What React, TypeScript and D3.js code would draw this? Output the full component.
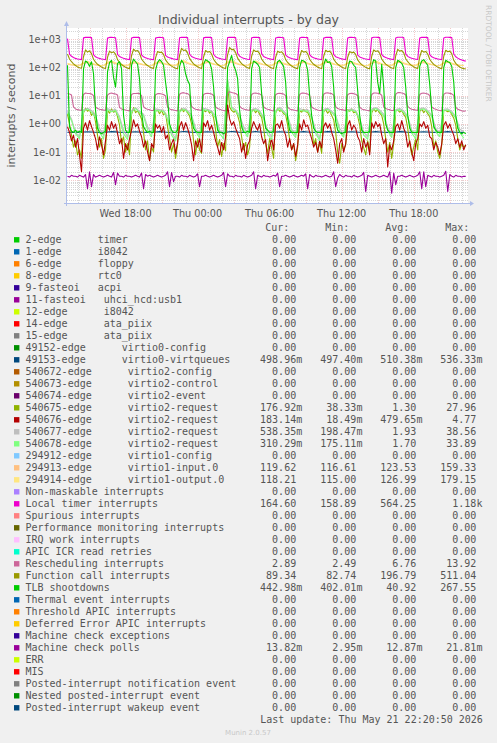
import React from "react";
import * as d3 from "d3";

// ---------- legend table ----------
const Z = "0.00";
const legendLabels = [
  "2-edge      timer",
  "1-edge      i8042",
  "6-edge      floppy",
  "8-edge      rtc0",
  "9-fasteoi   acpi",
  "11-fasteoi   uhci_hcd:usb1",
  "12-edge      i8042",
  "14-edge      ata_piix",
  "15-edge      ata_piix",
  "49152-edge      virtio0-config",
  "49153-edge      virtio0-virtqueues",
  "540672-edge      virtio2-config",
  "540673-edge      virtio2-control",
  "540674-edge      virtio2-event",
  "540675-edge      virtio2-request",
  "540676-edge      virtio2-request",
  "540677-edge      virtio2-request",
  "540678-edge      virtio2-request",
  "294912-edge      virtio1-config",
  "294913-edge      virtio1-input.0",
  "294914-edge      virtio1-output.0",
  "Non-maskable interrupts",
  "Local timer interrupts",
  "Spurious interrupts",
  "Performance monitoring interrupts",
  "IRQ work interrupts",
  "APIC ICR read retries",
  "Rescheduling interrupts",
  "Function call interrupts",
  "TLB shootdowns",
  "Thermal event interrupts",
  "Threshold APIC interrupts",
  "Deferred Error APIC interrupts",
  "Machine check exceptions",
  "Machine check polls",
  "ERR",
  "MIS",
  "Posted-interrupt notification event",
  "Nested posted-interrupt event",
  "Posted-interrupt wakeup event",
];
const legendColors = [
  "#00CC00", "#0066B3", "#FF8000", "#FFCC00", "#330099", "#990099", "#CCFF00", "#FF0000",
  "#808080", "#008F00", "#00487D", "#B35A00", "#B38F00", "#6B006B", "#8FB300", "#B30000",
  "#BEBEBE", "#80FF80", "#80C9FF", "#FFC080", "#FFE680", "#AA80FF", "#EE00CC", "#FF8080",
  "#666600", "#FFBFFF", "#00FFCC", "#CC6699", "#999900", "#00CC00", "#0066B3", "#FF8000",
  "#FFCC00", "#330099", "#990099", "#CCFF00", "#FF0000", "#808080", "#008F00", "#00487D",
];
const curVals = [Z, Z, Z, Z, Z, Z, Z, Z, Z, Z, "498.96m", Z, Z, Z, "176.92m", "183.14m", "538.35m", "310.29m", Z, "119.62", "118.21", Z, "164.60", Z, Z, Z, Z, "2.89", "89.34", "442.98m", Z, Z, Z, Z, "13.82m", Z, Z, Z, Z, Z];
const minVals = [Z, Z, Z, Z, Z, Z, Z, Z, Z, Z, "497.40m", Z, Z, Z, "38.33m", "18.49m", "198.47m", "175.11m", Z, "116.61", "115.00", Z, "158.89", Z, Z, Z, Z, "2.49", "82.74", "402.01m", Z, Z, Z, Z, "2.95m", Z, Z, Z, Z, Z];
const avgVals = [Z, Z, Z, Z, Z, Z, Z, Z, Z, Z, "510.38m", Z, Z, Z, "1.30", "479.65m", "1.93", "1.70", Z, "123.53", "126.99", Z, "564.25", Z, Z, Z, Z, "6.76", "196.79", "40.92", Z, Z, Z, Z, "12.87m", Z, Z, Z, Z, Z];
const maxVals = [Z, Z, Z, Z, Z, Z, Z, Z, Z, Z, "536.33m", Z, Z, Z, "27.96", "4.77", "38.56", "33.89", Z, "159.33", "179.15", Z, "1.18k", Z, Z, Z, Z, "13.92", "511.04", "267.55", Z, Z, Z, Z, "21.81m", Z, Z, Z, Z, Z];
const headers = ["Cur:", "Min:", "Avg:", "Max:"];

// ---------- axis ticks ----------
const yDecades = [1e-2, 1e-1, 1e0, 1e1, 1e2, 1e3];

// ---------- series values (10-minute samples from Wed 13:10) ----------
const LOC = [
  1050, 300, 250, 225, 210, 200, 195, 190,
  1120, 1170, 1170, 1165, 1150, 285, 240, 222, 210, 200, 195, 188,
  1100, 1165, 1170, 1160, 1140, 290, 245, 225, 212, 202, 196, 190,
  1110, 1170, 1175, 1165, 1150, 280, 238, 220, 208, 200, 194, 188,
  1100, 1160, 1170, 1160, 1130, 270, 235, 220, 210, 200, 195, 190,
  1130, 1175, 1170, 1165, 1155, 300, 245, 225, 212, 203, 197, 190,
  1120, 1170, 1175, 1165, 1150, 295, 240, 222, 210, 201, 195, 189,
  1150, 1175, 1170, 1168, 1160, 320, 250, 228, 213, 204, 197, 191,
  1140, 1170, 1175, 1165, 1160, 310, 245, 225, 212, 202, 196, 190,
  1110, 1165, 1170, 1160, 1140, 280, 238, 220, 208, 200, 194, 188,
  1100, 1170, 1170, 1162, 1145, 285, 240, 222, 210, 201, 195, 189,
  1100, 1165, 1175, 1165, 1150, 290, 242, 224, 211, 202, 196, 190,
  1110, 1170, 1170, 1160, 1130, 275, 236, 220, 209, 200, 195, 189,
  1120, 1175, 1180, 1170, 1150, 290, 243, 224, 211, 202, 196, 190,
  1115, 1180, 1180, 1175, 1160, 305, 248, 226, 212, 203, 197, 191,
  1100, 1170, 1175, 1165, 1145, 285, 240, 222, 210, 201, 195, 189,
  1110, 1175, 1180, 1170, 1160, 300, 240, 215, 195, 185, 175, 168,
];
const CAL = [
  300, 200, 160, 135, 118, 105, 98, 94,
  240, 420, 350, 390, 310, 195, 155, 130, 115, 104, 96, 92,
  230, 380, 330, 360, 300, 190, 150, 128, 113, 102, 95, 91,
  260, 450, 380, 400, 320, 200, 160, 133, 117, 105, 97, 93,
  220, 370, 340, 350, 290, 185, 148, 126, 112, 101, 94, 90,
  270, 480, 400, 420, 330, 210, 165, 135, 118, 106, 98, 93,
  240, 400, 350, 370, 300, 195, 155, 130, 115, 104, 96, 92,
  280, 511, 430, 440, 340, 215, 168, 137, 120, 107, 98, 93,
  250, 420, 370, 380, 310, 200, 158, 131, 116, 104, 96, 92,
  230, 380, 340, 360, 300, 190, 150, 128, 113, 102, 95, 91,
  240, 400, 350, 370, 310, 195, 155, 130, 115, 103, 96, 92,
  250, 410, 360, 380, 310, 198, 156, 131, 115, 104, 96, 92,
  230, 370, 330, 350, 290, 185, 148, 126, 112, 101, 94, 90,
  250, 420, 370, 390, 320, 200, 158, 131, 116, 104, 96, 92,
  260, 440, 380, 400, 330, 205, 160, 133, 117, 105, 97, 93,
  240, 400, 350, 370, 300, 195, 154, 129, 114, 103, 95, 91,
  250, 410, 360, 380, 310, 180, 140, 118, 104, 95, 91, 90,
];
const TLB = [
  120, 0.8, 0.55, 0.5, 0.6, 0.5, 0.55, 0.5,
  90, 170, 150, 110, 160, 60, 3, 0.7, 0.5, 0.45, 0.5, 0.55,
  70, 150, 180, 45, 20, 140, 160, 90, 2, 0.6, 0.5, 0.5,
  120, 200, 160, 130, 40, 2.5, 0.8, 0.6, 0.5, 0.55, 0.5, 0.5,
  80, 150, 190, 160, 120, 30, 8, 1, 0.6, 0.5, 0.5, 0.6,
  110, 180, 140, 60, 35, 25, 1.5, 0.7, 0.55, 0.5, 0.5, 0.5,
  130, 190, 170, 150, 90, 20, 2, 0.6, 0.5, 0.5, 0.45, 0.5,
  100, 160, 267, 120, 80, 40, 3, 0.8, 0.5, 0.5, 0.55, 0.5,
  90, 170, 150, 130, 100, 12, 2.5, 0.7, 0.6, 0.5, 0.5, 0.55,
  80, 160, 180, 140, 110, 30, 1.5, 0.6, 0.5, 0.5, 0.5, 0.5,
  100, 180, 170, 150, 80, 10, 2, 0.7, 0.55, 0.5, 0.5, 0.5,
  120, 200, 150, 160, 110, 20, 1.2, 0.6, 0.5, 0.45, 0.5, 0.5,
  90, 170, 160, 120, 100, 15, 2, 0.6, 0.5, 0.5, 0.5, 0.55,
  110, 190, 170, 30, 12, 130, 20, 1, 0.6, 0.5, 0.5, 0.5,
  100, 180, 160, 140, 100, 20, 2, 0.7, 0.5, 0.5, 0.5, 0.5,
  110, 170, 190, 150, 120, 25, 3, 0.8, 0.6, 0.5, 0.5, 0.5,
  100, 180, 160, 150, 110, 30, 2, 0.7, 0.5, 0.45, 0.5, 0.45,
];
const RES = [
  12, 11.5, 10.5, 4, 3.4, 3.2, 3.1, 3.0,
  11, 12.5, 12, 12, 11.5, 10, 4, 3.5, 3.3, 3.2, 3.1, 3.0,
  10.5, 12, 12.5, 11.8, 11.5, 10.5, 3.8, 3.4, 3.2, 3.1, 3.0, 2.9,
  11, 12, 12, 12.2, 11.8, 10, 4.1, 3.5, 3.3, 3.2, 3.0, 3.0,
  10.8, 11.8, 12, 11.5, 11, 9.8, 3.9, 3.4, 3.2, 3.1, 3.0, 2.9,
  11.2, 12.5, 12.8, 12.2, 11.8, 10.5, 4.2, 3.6, 3.3, 3.2, 3.1, 3.0,
  11, 12, 12.2, 12, 11.5, 10.2, 4, 3.5, 3.3, 3.1, 3.0, 2.9,
  11.5, 13.9, 13, 12.5, 12, 10.8, 4.3, 3.6, 3.4, 3.2, 3.1, 3.0,
  11, 12.2, 12.5, 12, 11.6, 10.4, 4, 3.5, 3.3, 3.2, 3.0, 2.9,
  10.8, 12, 12.2, 11.8, 11.4, 10, 3.9, 3.4, 3.2, 3.1, 3.0, 2.9,
  11, 12.3, 12.4, 12, 11.5, 10.2, 4, 3.5, 3.3, 3.1, 3.0, 3.0,
  11.2, 12.5, 12.6, 12.2, 11.8, 10.5, 4.1, 3.5, 3.3, 3.2, 3.1, 2.9,
  10.8, 12, 12.1, 11.8, 11.3, 10, 3.9, 3.4, 3.2, 3.1, 3.0, 2.9,
  11, 12.4, 12.5, 12.2, 11.7, 10.4, 4, 3.5, 3.3, 3.2, 3.0, 3.0,
  11.3, 12.8, 12.9, 12.4, 12, 10.6, 4.2, 3.6, 3.3, 3.2, 3.1, 3.0,
  11, 12.2, 12.4, 12, 11.5, 10.2, 4, 3.5, 3.3, 3.1, 3.0, 2.9,
  11.1, 12.4, 12.5, 12.1, 11.6, 10.3, 3.9, 3.3, 3.1, 2.9, 2.8, 2.89,
];
const V540675 = [
  2.2, 1.0, 0.4, 0.15, 0.25, 0.08, 0.12, 0.06,
  2.5, 3.6, 2.8, 3.2, 2.0, 2.6, 1.2, 0.4, 0.15, 0.3, 0.06, 0.12,
  3.0, 2.4, 3.4, 2.6, 3.0, 1.8, 0.9, 0.2, 0.35, 0.1, 0.2, 0.08,
  2.2, 3.8, 2.5, 2.9, 2.2, 1.5, 0.5, 0.12, 0.25, 0.05, 0.15, 0.1,
  2.8, 3.1, 2.3, 3.0, 2.1, 2.4, 0.8, 0.3, 0.1, 0.2, 0.06, 0.18,
  2.6, 3.5, 2.7, 3.3, 2.5, 1.9, 1.0, 0.25, 0.08, 0.3, 0.12, 0.09,
  3.1, 2.7, 3.2, 2.4, 2.8, 1.6, 0.6, 0.15, 0.28, 0.07, 0.2, 0.11,
  28, 4.0, 3.0, 2.6, 2.9, 2.0, 1.1, 0.35, 0.12, 0.22, 0.08, 0.15,
  2.7, 3.3, 2.5, 3.1, 2.2, 1.7, 0.7, 0.2, 0.09, 0.3, 0.14, 0.06,
  2.4, 3.6, 2.8, 3.0, 2.3, 2.1, 0.9, 0.28, 0.12, 0.2, 0.05, 0.15,
  3.0, 2.6, 3.3, 2.7, 2.6, 1.8, 0.8, 0.18, 0.3, 0.1, 0.22, 0.09,
  2.7, 3.2, 2.4, 2.9, 2.0, 1.4, 0.5, 0.1, 0.04, 0.2, 0.12, 0.18,
  3.2, 2.8, 3.4, 2.5, 2.7, 1.9, 0.9, 0.25, 0.14, 0.08, 0.25, 0.1,
  2.5, 3.5, 2.7, 3.2, 2.4, 2.0, 1.0, 0.3, 0.1, 0.22, 0.06, 0.2,
  2.9, 3.1, 2.6, 3.0, 2.2, 1.7, 0.7, 0.2, 0.08, 0.15, 0.3, 0.12,
  2.8, 3.4, 2.5, 3.1, 2.3, 1.8, 0.8, 0.15, 0.25, 0.1, 0.06, 0.18,
  3.0, 3.0, 2.7, 2.8, 2.2, 1.6, 0.9, 0.3, 0.12, 0.2, 0.15, 0.177,
];
const V540676 = [
  0.8, 0.5, 0.25, 0.4, 0.15, 0.3, 0.08, 0.02,
  0.7, 1.1, 0.6, 1.3, 0.8, 0.5, 0.3, 0.12, 0.35, 0.18, 0.08, 0.25,
  0.9, 0.6, 1.2, 0.7, 1.0, 0.45, 0.2, 0.3, 0.06, 0.2, 0.12, 0.3,
  0.6, 1.4, 0.8, 1.0, 0.55, 0.35, 0.15, 0.25, 0.1, 0.05, 0.2, 0.14,
  1.0, 0.7, 0.9, 0.5, 0.8, 0.3, 0.4, 0.12, 0.2, 0.3, 0.09, 0.22,
  0.8, 1.2, 0.6, 1.1, 0.7, 0.4, 0.18, 0.05, 0.25, 0.15, 0.3, 0.1,
  1.1, 0.8, 1.3, 0.6, 0.9, 0.5, 0.25, 0.15, 0.08, 0.22, 0.12, 0.35,
  4.7, 1.5, 0.9, 1.2, 0.7, 0.45, 0.3, 0.1, 0.2, 0.06, 0.18, 0.25,
  0.7, 1.2, 0.8, 0.6, 1.0, 0.35, 0.2, 0.28, 0.05, 0.15, 0.3, 0.12,
  0.9, 1.0, 0.7, 1.3, 0.6, 0.4, 0.15, 0.3, 0.12, 0.2, 0.07, 0.18,
  1.0, 0.6, 1.4, 0.8, 0.9, 0.5, 0.3, 0.15, 0.22, 0.1, 0.25, 0.14,
  0.8, 1.1, 0.7, 1.0, 0.5, 0.3, 0.12, 0.04, 0.2, 0.3, 0.1, 0.2,
  0.9, 1.3, 0.6, 0.9, 0.7, 0.35, 0.25, 0.1, 0.3, 0.15, 0.22, 0.08,
  1.1, 0.7, 1.2, 0.8, 1.0, 0.4, 0.2, 0.3, 0.03, 0.18, 0.12, 0.25,
  0.8, 1.0, 0.6, 1.3, 0.7, 0.45, 0.15, 0.25, 0.1, 0.05, 0.2, 0.3,
  1.0, 0.8, 1.2, 0.7, 0.9, 0.35, 0.3, 0.12, 0.22, 0.15, 0.08, 0.2,
  0.9, 1.2, 0.7, 1.0, 0.6, 0.4, 0.2, 0.3, 0.15, 0.25, 0.12, 0.183,
];
const MCP = [
  0.014, 0.013, 0.015, 0.014, 0.014, 0.013, 0.015, 0.014, 0.013, 0.016,
  0.005, 0.02, 0.006, 0.016, 0.013, 0.014, 0.015, 0.014, 0.013, 0.014,
  0.015, 0.014, 0.013, 0.019, 0.007, 0.018, 0.014, 0.014, 0.013, 0.015,
  0.014, 0.014, 0.013, 0.014, 0.015, 0.014, 0.013, 0.018, 0.005, 0.016,
  0.014, 0.015, 0.014, 0.013, 0.014, 0.015, 0.014, 0.013, 0.014, 0.015,
  0.02, 0.006, 0.019, 0.009, 0.014, 0.014, 0.013, 0.015, 0.014, 0.014,
  0.013, 0.015, 0.014, 0.013, 0.014, 0.017, 0.006, 0.014, 0.014, 0.015,
  0.014, 0.013, 0.014, 0.015, 0.014, 0.013, 0.014, 0.015, 0.019, 0.006,
  0.017, 0.014, 0.014, 0.013, 0.015, 0.014, 0.014, 0.013, 0.015, 0.014,
  0.013, 0.014, 0.015, 0.02, 0.005, 0.015, 0.014, 0.013, 0.015, 0.014,
  0.014, 0.013, 0.014, 0.015, 0.014, 0.018, 0.006, 0.014, 0.014, 0.015,
  0.014, 0.013, 0.014, 0.015, 0.014, 0.013, 0.014, 0.015, 0.014, 0.017,
  0.005, 0.016, 0.014, 0.013, 0.015, 0.014, 0.014, 0.013, 0.014, 0.015,
  0.014, 0.013, 0.014, 0.02, 0.006, 0.012, 0.016, 0.014, 0.013, 0.015,
  0.014, 0.014, 0.013, 0.015, 0.014, 0.013, 0.014, 0.015, 0.019, 0.004,
  0.015, 0.014, 0.013, 0.014, 0.015, 0.014, 0.013, 0.014, 0.015, 0.014,
  0.013, 0.02, 0.0035, 0.018, 0.007, 0.014, 0.014, 0.015, 0.014, 0.013,
  0.014, 0.015, 0.014, 0.013, 0.014, 0.015, 0.02, 0.005, 0.02, 0.006,
  0.015, 0.014, 0.013, 0.015, 0.014, 0.014, 0.013, 0.014, 0.015, 0.021,
  0.004, 0.016, 0.014, 0.013, 0.015, 0.014, 0.014, 0.013, 0.014, 0.0138,
];

// ---------- series values (20-minute samples from Wed 13:10) ----------
const V49153 = [
  0.505, 0.5, 0.5, 0.499,
  0.514, 0.528, 0.518, 0.504, 0.5, 0.499,
  0.516, 0.532, 0.52, 0.505, 0.5, 0.498,
  0.513, 0.527, 0.517, 0.504, 0.5, 0.499,
  0.515, 0.53, 0.519, 0.505, 0.5, 0.498,
  0.518, 0.536, 0.522, 0.506, 0.501, 0.499,
  0.514, 0.529, 0.518, 0.504, 0.5, 0.499,
  0.517, 0.534, 0.521, 0.506, 0.5, 0.498,
  0.515, 0.531, 0.519, 0.505, 0.5, 0.499,
  0.513, 0.527, 0.517, 0.504, 0.5, 0.498,
  0.515, 0.53, 0.519, 0.505, 0.5, 0.499,
  0.516, 0.532, 0.52, 0.505, 0.5, 0.498,
  0.513, 0.526, 0.517, 0.504, 0.499, 0.498,
  0.515, 0.531, 0.519, 0.505, 0.5, 0.499,
  0.517, 0.533, 0.521, 0.506, 0.5, 0.498,
  0.514, 0.529, 0.518, 0.504, 0.5, 0.499,
  0.515, 0.53, 0.519, 0.505, 0.5, 0.499,
];
const V540677 = [
  2.8, 1.5, 0.5, 0.35,
  3.2, 3.6, 3.0, 2.0, 0.7, 0.4,
  3.5, 3.0, 3.3, 1.8, 0.6, 0.35,
  3.0, 3.8, 2.8, 2.2, 0.8, 0.45,
  3.4, 3.2, 3.1, 1.6, 0.5, 0.3,
  3.1, 3.7, 3.0, 2.1, 0.7, 0.4,
  3.6, 3.3, 2.9, 1.9, 0.6, 0.38,
  38.5, 4.0, 3.2, 2.0, 0.8, 0.45,
  3.2, 3.5, 3.0, 1.7, 0.55, 0.35,
  3.0, 3.9, 2.9, 2.0, 0.65, 0.4,
  3.5, 3.1, 3.2, 1.8, 0.6, 0.3,
  3.3, 3.6, 2.8, 2.1, 0.7, 0.42,
  3.1, 3.4, 3.0, 1.6, 0.5, 0.36,
  3.4, 3.8, 3.1, 2.2, 0.75, 0.4,
  3.2, 3.5, 2.9, 1.9, 0.6, 0.38,
  3.5, 3.7, 3.0, 2.0, 0.7, 0.45,
  3.3, 3.4, 2.8, 1.8, 0.65, 0.538,
];
const V540678 = [
  2.5, 1.3, 0.45, 0.3,
  2.8, 3.4, 2.6, 1.7, 0.5, 0.3,
  3.1, 2.7, 3.0, 1.5, 0.45, 0.28,
  2.6, 3.5, 2.5, 1.9, 0.6, 0.35,
  3.0, 2.9, 2.8, 1.4, 0.4, 0.25,
  2.7, 3.3, 2.7, 1.8, 0.55, 0.32,
  3.2, 3.0, 2.6, 1.6, 0.45, 0.3,
  33.9, 3.6, 2.9, 1.7, 0.6, 0.35,
  2.8, 3.2, 2.7, 1.5, 0.42, 0.28,
  2.7, 3.5, 2.6, 1.8, 0.5, 0.33,
  3.1, 2.8, 2.9, 1.6, 0.46, 0.26,
  2.9, 3.3, 2.5, 1.8, 0.55, 0.34,
  2.8, 3.1, 2.7, 1.4, 0.4, 0.29,
  3.0, 3.5, 2.8, 1.9, 0.58, 0.33,
  2.9, 3.2, 2.6, 1.7, 0.47, 0.3,
  3.1, 3.4, 2.7, 1.8, 0.52, 0.35,
  3.0, 3.1, 2.5, 1.6, 0.5, 0.31,
];
const V294913 = [
  130, 124, 120, 119,
  138, 150, 134, 124, 120, 118,
  142, 155, 136, 125, 121, 119,
  140, 148, 133, 124, 120, 118,
  137, 151, 135, 125, 121, 119,
  144, 159, 138, 126, 121, 119,
  140, 152, 135, 125, 120, 118,
  146, 158, 139, 126, 122, 119,
  141, 153, 136, 125, 121, 119,
  139, 150, 134, 124, 120, 118,
  140, 152, 135, 125, 121, 119,
  142, 154, 136, 125, 121, 119,
  138, 149, 134, 124, 120, 118,
  141, 153, 136, 125, 121, 119,
  143, 156, 137, 126, 121, 119,
  140, 151, 135, 125, 120, 118,
  141, 152, 135, 124, 120, 119.6,
];
const V294914 = [
  140, 127, 121, 118,
  148, 165, 143, 127, 120, 117,
  152, 170, 146, 128, 121, 118,
  149, 163, 142, 127, 120, 117,
  147, 166, 144, 128, 121, 118,
  155, 176, 149, 129, 121, 118,
  150, 168, 145, 128, 120, 117,
  158, 179, 150, 130, 122, 118,
  151, 169, 146, 128, 121, 118,
  148, 164, 143, 127, 120, 117,
  150, 167, 145, 128, 121, 118,
  153, 171, 147, 128, 121, 118,
  147, 162, 142, 127, 120, 117,
  151, 168, 146, 128, 121, 118,
  154, 173, 148, 129, 121, 118,
  149, 166, 144, 127, 120, 117,
  150, 167, 145, 127, 120, 118.2,
];

// drawn series, in rrdtool drawing (legend) order: [legend index, values, sample step in minutes]
const drawn: [number, number[], number][] = [
  [10, V49153, 20],
  [14, V540675, 10],
  [15, V540676, 10],
  [16, V540677, 20],
  [17, V540678, 20],
  [19, V294913, 20],
  [20, V294914, 20],
  [22, LOC, 10],
  [27, RES, 10],
  [28, CAL, 10],
  [29, TLB, 10],
  [34, MCP, 10],
];

const T_START = new Date(2026, 4, 20, 13, 7, 30);
const T_END = new Date(2026, 4, 21, 22, 26, 10);
const T_FIRST = new Date(2026, 4, 20, 13, 10, 0);

const SANS = "'DejaVu Sans', Verdana, sans-serif";
const MONO = "'DejaVu Sans Mono', monospace";

function fmtDecade(v: number) {
  const e = Math.round(Math.log10(v));
  return "1e" + (e < 0 ? "-" : "+") + String(Math.abs(e)).padStart(2, "0");
}

function splitNum(s: string): [string, string] {
  const last = s[s.length - 1];
  if (/[a-zA-Z]/.test(last)) return [s.slice(0, -1), last];
  return [s, ""];
}

export default function App() {
  const L = 67, R = 467, T = 28, B = 203;
  const x = d3.scaleTime().domain([T_START, T_END]).range([L, R]);
  const y = d3.scaleLog().domain([Math.pow(10, -2.805), Math.pow(10, 3.4)]).range([B, T]);

  const hours = d3.timeHour.range(T_START, T_END);
  const minorY: number[] = [];
  for (let e = -3; e <= 3; e++) {
    for (let m = 2; m <= 9; m++) {
      const v = m * Math.pow(10, e);
      if (v > y.domain()[0] && v < y.domain()[1]) minorY.push(v);
    }
  }

  const gridMinor = "#d6d6d6";
  const gridMajor = "#f3caca";
  const axisCol = "#aebde9";
  const textCol = "#555555";

  const rowY = (n: number) => 243.3 + 12 * n;
  const colEnds = [296.2, 356.4, 416.4, 476.4];
  const colVals = [curVals, minVals, avgVals, maxVals];
  const headerX = [265.2, 325.2, 385.2, 445.2];

  return (
    <div style={{ position: "absolute", left: 0, top: 0, width: 497, height: 743 }}>
      <svg width={497} height={743} style={{ display: "block" }} xmlns="http://www.w3.org/2000/svg">
        <defs>
          <clipPath id="plotclip">
            <rect x={L} y={T} width={R - L + 1} height={B - T} />
          </clipPath>
        </defs>
        <rect x={0} y={0} width={497} height={743} fill="#F0F0F0" />
        <rect x={L} y={T} width={R - L + 1} height={B - T} fill="#FFFFFF" />

        {/* minor grid */}
        <g stroke={gridMinor} strokeWidth={1} strokeDasharray="1 1" shapeRendering="crispEdges">
          {hours.filter((h) => h.getHours() % 3 !== 0).map((h, i) => (
            <line key={"vx" + i} x1={Math.round(x(h)) + 0.5} x2={Math.round(x(h)) + 0.5} y1={T} y2={B} />
          ))}
          {minorY.map((v, i) => (
            <line key={"hy" + i} x1={L} x2={R + 1} y1={Math.round(y(v)) + 0.5} y2={Math.round(y(v)) + 0.5} />
          ))}
        </g>
        {/* major grid */}
        <g stroke={gridMajor} strokeWidth={1} strokeDasharray="1 1" shapeRendering="crispEdges">
          {hours.filter((h) => h.getHours() % 3 === 0).map((h, i) => (
            <line key={"VX" + i} x1={Math.round(x(h)) + 0.5} x2={Math.round(x(h)) + 0.5} y1={T} y2={B} />
          ))}
          {yDecades.map((v, i) => (
            <line key={"HY" + i} x1={L} x2={R + 1} y1={Math.round(y(v)) + 0.5} y2={Math.round(y(v)) + 0.5} />
          ))}
        </g>

        {/* data lines */}
        <g clipPath="url(#plotclip)" fill="none" strokeWidth={1.1} strokeLinejoin="round">
          {drawn.map(([idx, vals, step]) => {
            const gen = d3
              .line<number>()
              .x((_, i) => x(new Date(T_FIRST.getTime() + i * step * 60000)))
              .y((d) => y(d))
              .defined((d) => d > 0);
            return <path key={"s" + idx} d={gen(vals) || ""} stroke={legendColors[idx]} />;
          })}
        </g>

        {/* axes */}
        <g stroke={axisCol} strokeWidth={1} shapeRendering="crispEdges">
          <line x1={L - 3} x2={R + 4} y1={B + 0.5} y2={B + 0.5} />
          <line x1={L - 0.5} x2={L - 0.5} y1={B + 3} y2={25} />
        </g>
        <path d={`M${R + 3},${B - 2} L${R + 7},${B + 0.5} L${R + 3},${B + 3} Z`} fill={axisCol} />
        <path d={`M${L - 3},${26} L${L - 0.5},${21} L${L + 2},${26} Z`} fill={axisCol} />

        {/* tick labels */}
        <g fontFamily={SANS} fontSize={9.7} fill={textCol}>
          {hours.filter((h) => h.getHours() % 6 === 0).map((h, i) => (
            <text key={"xl" + i} x={x(h)} y={216.5} textAnchor="middle">
              {d3.timeFormat("%a %H:%M")(h)}
            </text>
          ))}
          {yDecades.map((v, i) => (
            <text key={"yl" + i} x={61} y={y(v) + 3.5} textAnchor="end">
              {fmtDecade(v)}
            </text>
          ))}
        </g>

        {/* title & labels */}
        <text x={248.5} y={24} textAnchor="middle" fontFamily={SANS} fontSize={12.5} fill={textCol}>
          Individual interrupts - by day
        </text>
        <text
          transform="translate(14.5,115.5) rotate(-90)"
          textAnchor="middle"
          fontFamily={SANS}
          fontSize={11}
          fill={textCol}
        >
          interrupts / second
        </text>
        <text
          transform="translate(485.5,5) rotate(90)"
          fontFamily={SANS}
          fontSize={7.5}
          fill="#c8c8c8"
        >
          RRDTOOL / TOBI OETIKER
        </text>

        {/* legend */}
        <g fontFamily={MONO} fontSize={10} fill={textCol}>
          {headers.map((h, i) => (
            <text key={"hd" + i} x={headerX[i]} y={rowY(-1)}>
              {h}
            </text>
          ))}
          {legendLabels.map((lab, n) => (
            <g key={"lg" + n}>
              <rect x={14} y={rowY(n) - 6.2} width={5.4} height={5.4} fill={legendColors[n]} />
              <text x={25.5} y={rowY(n)} xmlSpace="preserve" style={{ whiteSpace: "pre" }}>
                {lab}
              </text>
              {colVals.map((arr, c) => {
                const [num, suf] = splitNum(arr[n]);
                return (
                  <g key={"c" + c}>
                    <text x={colEnds[c]} y={rowY(n)} textAnchor="end">
                      {num}
                    </text>
                    {suf ? (
                      <text x={colEnds[c]} y={rowY(n)}>
                        {suf}
                      </text>
                    ) : null}
                  </g>
                );
              })}
            </g>
          ))}
          <text x={482.9} y={rowY(40)} textAnchor="end" xmlSpace="preserve" style={{ whiteSpace: "pre" }}>
            Last update: Thu May 21 22:20:50 2026
          </text>
        </g>
        <text x={248} y={735} textAnchor="middle" fontFamily={SANS} fontSize={7} fill="#c8c8c8">
          Munin 2.0.57
        </text>
      </svg>
    </div>
  );
}
